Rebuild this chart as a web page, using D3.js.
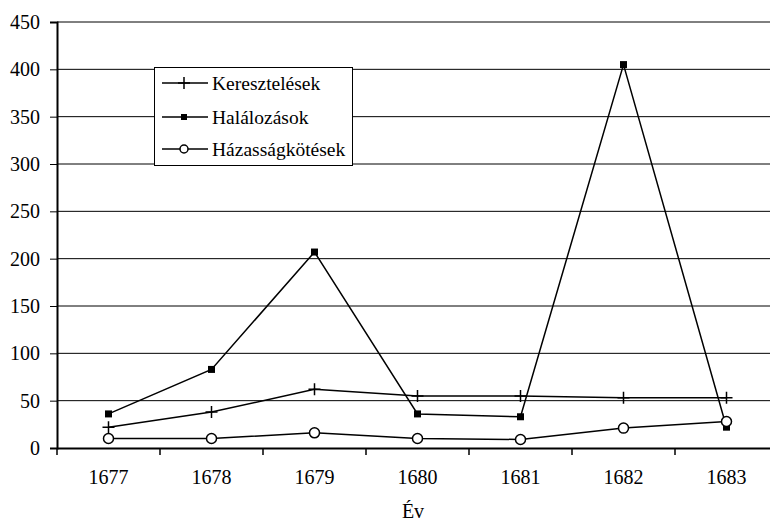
<!DOCTYPE html>
<html><head><meta charset="utf-8">
<script src="https://cdn.jsdelivr.net/npm/d3@7"></script>
<style>body{margin:0;background:#fff}svg{display:block}
svg text{font-family:"Liberation Serif","Times New Roman",serif !important;font-size:20px;fill:#000}
svg text.leg{font-size:19.5px}</style>
</head><body>
<svg id="c" width="770" height="522"></svg>
<script>
const years = ["1677","1678","1679","1680","1681","1682","1683"];
const keresztelesek = [22, 38, 62, 55, 55, 53, 53];
const halalozasok = [36, 83, 207, 36, 33, 405, 22];
const hazassagkotesek = [10, 10, 16, 10, 9, 21, 28];
const yTicks = [0,50,100,150,200,250,300,350,400,450];
const seriesNames = ["Keresztelések","Halálozások","Házasságkötések"];

const svg = d3.select("#c");
const L = 57, R = 778, T = 22, B = 448;
const x = d3.scaleBand().domain(years).range([L, R]);
const y = d3.scaleLinear().domain([0, 450]).range([B, T]);

svg.append("g").selectAll("line").data(yTicks.filter(d=>d>0)).join("line")
  .attr("x1", L).attr("x2", R).attr("y1", d=>y(d)).attr("y2", d=>y(d))
  .attr("stroke", "#000").attr("stroke-width", 1);

const ya = svg.append("g").attr("transform", `translate(${L},0)`)
  .call(d3.axisLeft(y).tickValues(yTicks).tickSize(7).tickPadding(10));
ya.attr("font-size", null).attr("font-family", null);
ya.select(".domain").attr("stroke-width", 2);

const xa = svg.append("g").attr("transform", `translate(0,${B})`)
  .call(d3.axisBottom(x).tickSize(0).tickPadding(22));
xa.attr("font-size", null).attr("font-family", null);
xa.select(".domain").attr("stroke-width", 2);
svg.append("g").selectAll("line").data(years).join("line")
  .attr("x1", d=>x(d)).attr("x2", d=>x(d)).attr("y1", B).attr("y2", B+7)
  .attr("stroke","#000").attr("stroke-width",1.5);

svg.append("text").attr("x", 413).attr("y", 518).attr("text-anchor","middle").text("Év");

const cx = d => x(d) + x.bandwidth()/2;
const line = d3.line().x((d,i)=>cx(years[i])).y(d=>y(d));
const data = [keresztelesek, halalozasok, hazassagkotesek];
const types = ["plus","square","circle"];

function marker(g, type, px, py) {
  if (type === "plus") {
    g.append("path").attr("d", `M${px-6},${py}H${px+6}M${px},${py-6}V${py+6}`)
      .attr("stroke","#000").attr("stroke-width",1.5).attr("fill","none");
  } else if (type === "square") {
    g.append("rect").attr("x", px-3.5).attr("y", py-3.5).attr("width",7).attr("height",7).attr("fill","#000");
  } else {
    g.append("circle").attr("cx", px).attr("cy", py).attr("r", 5)
      .attr("fill","#fff").attr("stroke","#000").attr("stroke-width",1.5);
  }
}

data.forEach((vals, si) => {
  const g = svg.append("g");
  g.append("path").datum(vals).attr("d", line).attr("fill","none").attr("stroke","#000").attr("stroke-width",1.5);
  vals.forEach((v,i) => marker(g, types[si], cx(years[i]), y(v)));
});

const lg = svg.append("g");
lg.append("rect").attr("x",154.5).attr("y",67.5).attr("width",198).attr("height",98)
  .attr("fill","#fff").attr("stroke","#000").attr("stroke-width",1);
const rows = [83, 117, 149];
seriesNames.forEach((n,i) => {
  lg.append("line").attr("x1",162).attr("x2",208).attr("y1",rows[i]).attr("y2",rows[i])
    .attr("stroke","#000").attr("stroke-width",1.5);
  const mg = lg.append("g");
  if (types[i]==="plus") mg.append("path").attr("d",`M178,${rows[i]}H190M184,${rows[i]-6}V${rows[i]+6}`).attr("stroke","#000").attr("stroke-width",1.5);
  else if (types[i]==="square") mg.append("rect").attr("x",181).attr("y",rows[i]-3).attr("width",6).attr("height",6).attr("fill","#000");
  else mg.append("circle").attr("cx",184).attr("cy",rows[i]).attr("r",4).attr("fill","#fff").attr("stroke","#000").attr("stroke-width",1.5);
  lg.append("text").attr("class","leg").attr("x",212).attr("y",rows[i]+6.5).text(n);
});
</script>
</body></html>
